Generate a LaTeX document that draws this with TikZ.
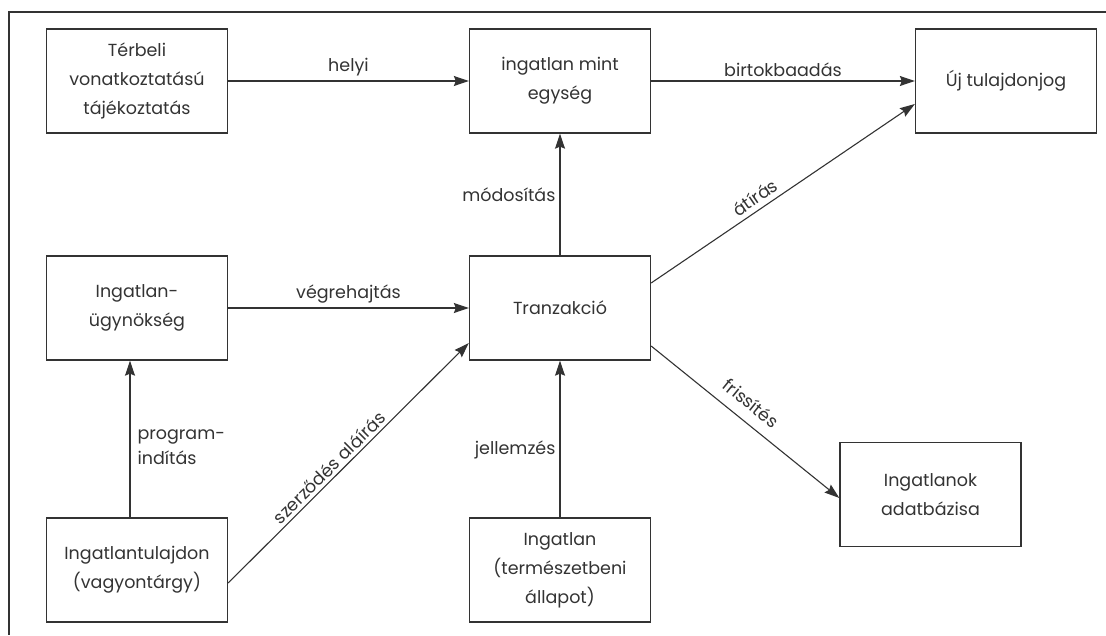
\documentclass[tikz,border=0pt]{standalone}
\usepackage{fontspec}
\setmainfont{Poppins}
\usetikzlibrary{arrows.meta,calc}
\definecolor{ink}{HTML}{333333}
\begin{document}
\begin{tikzpicture}[x=1pt,y=-1pt,
  box/.style={draw=ink, line width=1.3pt, minimum width=181pt, minimum height=104pt,
    align=center, text=ink, inner sep=0pt, font=\fontsize{17.5}{29}\selectfont},
  arr/.style={draw=ink, line width=1.1pt, -{Stealth[length=15pt,width=10pt,inset=2pt]}},
  lab/.style={text=ink, font=\fontsize{17.5}{25}\selectfont, inner sep=3pt}]
\useasboundingbox (0,0) rectangle (1106,635);
\draw[line width=2.5pt, ink] (1106,12) -- (9,12) -- (9,635);

\node[box] (ter) at (137,81) {Térbeli\\vonatkoztatású\\tájékoztatás};
\node[box] (egy) at (560,81) {ingatlan mint\\egység};
\node[box] (uj) at (1006,81) {Új tulajdonjog};
\node[box] (ugy) at (137,308) {Ingatlan-\\ügynökség};
\node[box] (tr) at (560,308) {Tranzakció};
\node[box] (tul) at (137,570) {Ingatlantulajdon\\(vagyontárgy)};
\node[box] (ing) at (560,570) {Ingatlan\\(természetbeni\\állapot)};
\node[box] (db) at (930.5,494.5) {Ingatlanok\\adatbázisa};

\draw[arr] (ter) -- node[lab, above=1pt]{helyi} (egy);
\draw[arr] (egy) -- node[lab, above=1pt]{birtokbaadás} (uj);
\draw[arr] (tr) -- node[lab, left=1pt]{módosítás} (egy);
\draw[arr] (ugy) -- node[lab, above=1pt]{végrehajtás} (tr);
\draw[arr] ([yshift=25pt]tr.east) -- node[lab, above=2pt, sloped, pos=0.42]{átírás} ([yshift=-23pt]uj.west);
\draw[arr] ([yshift=-13pt]tul.east) -- node[lab, above, sloped, pos=0.45]{szerződés aláírás} ([yshift=-35pt]tr.west);
\draw[arr] ([yshift=-38pt]tr.east) -- node[lab, above=8pt, sloped, pos=0.47]{frissítés} ([yshift=-3.5pt]db.west);
\draw[arr] ([xshift=-7pt]tul.north) -- node[lab, right=4pt, align=left, pos=0.45]{program-\\indítás} ([xshift=-7pt]ugy.south);
\draw[arr] (ing) -- node[lab, left=1pt, pos=0.43]{jellemzés} (tr);
\end{tikzpicture}
\end{document}
